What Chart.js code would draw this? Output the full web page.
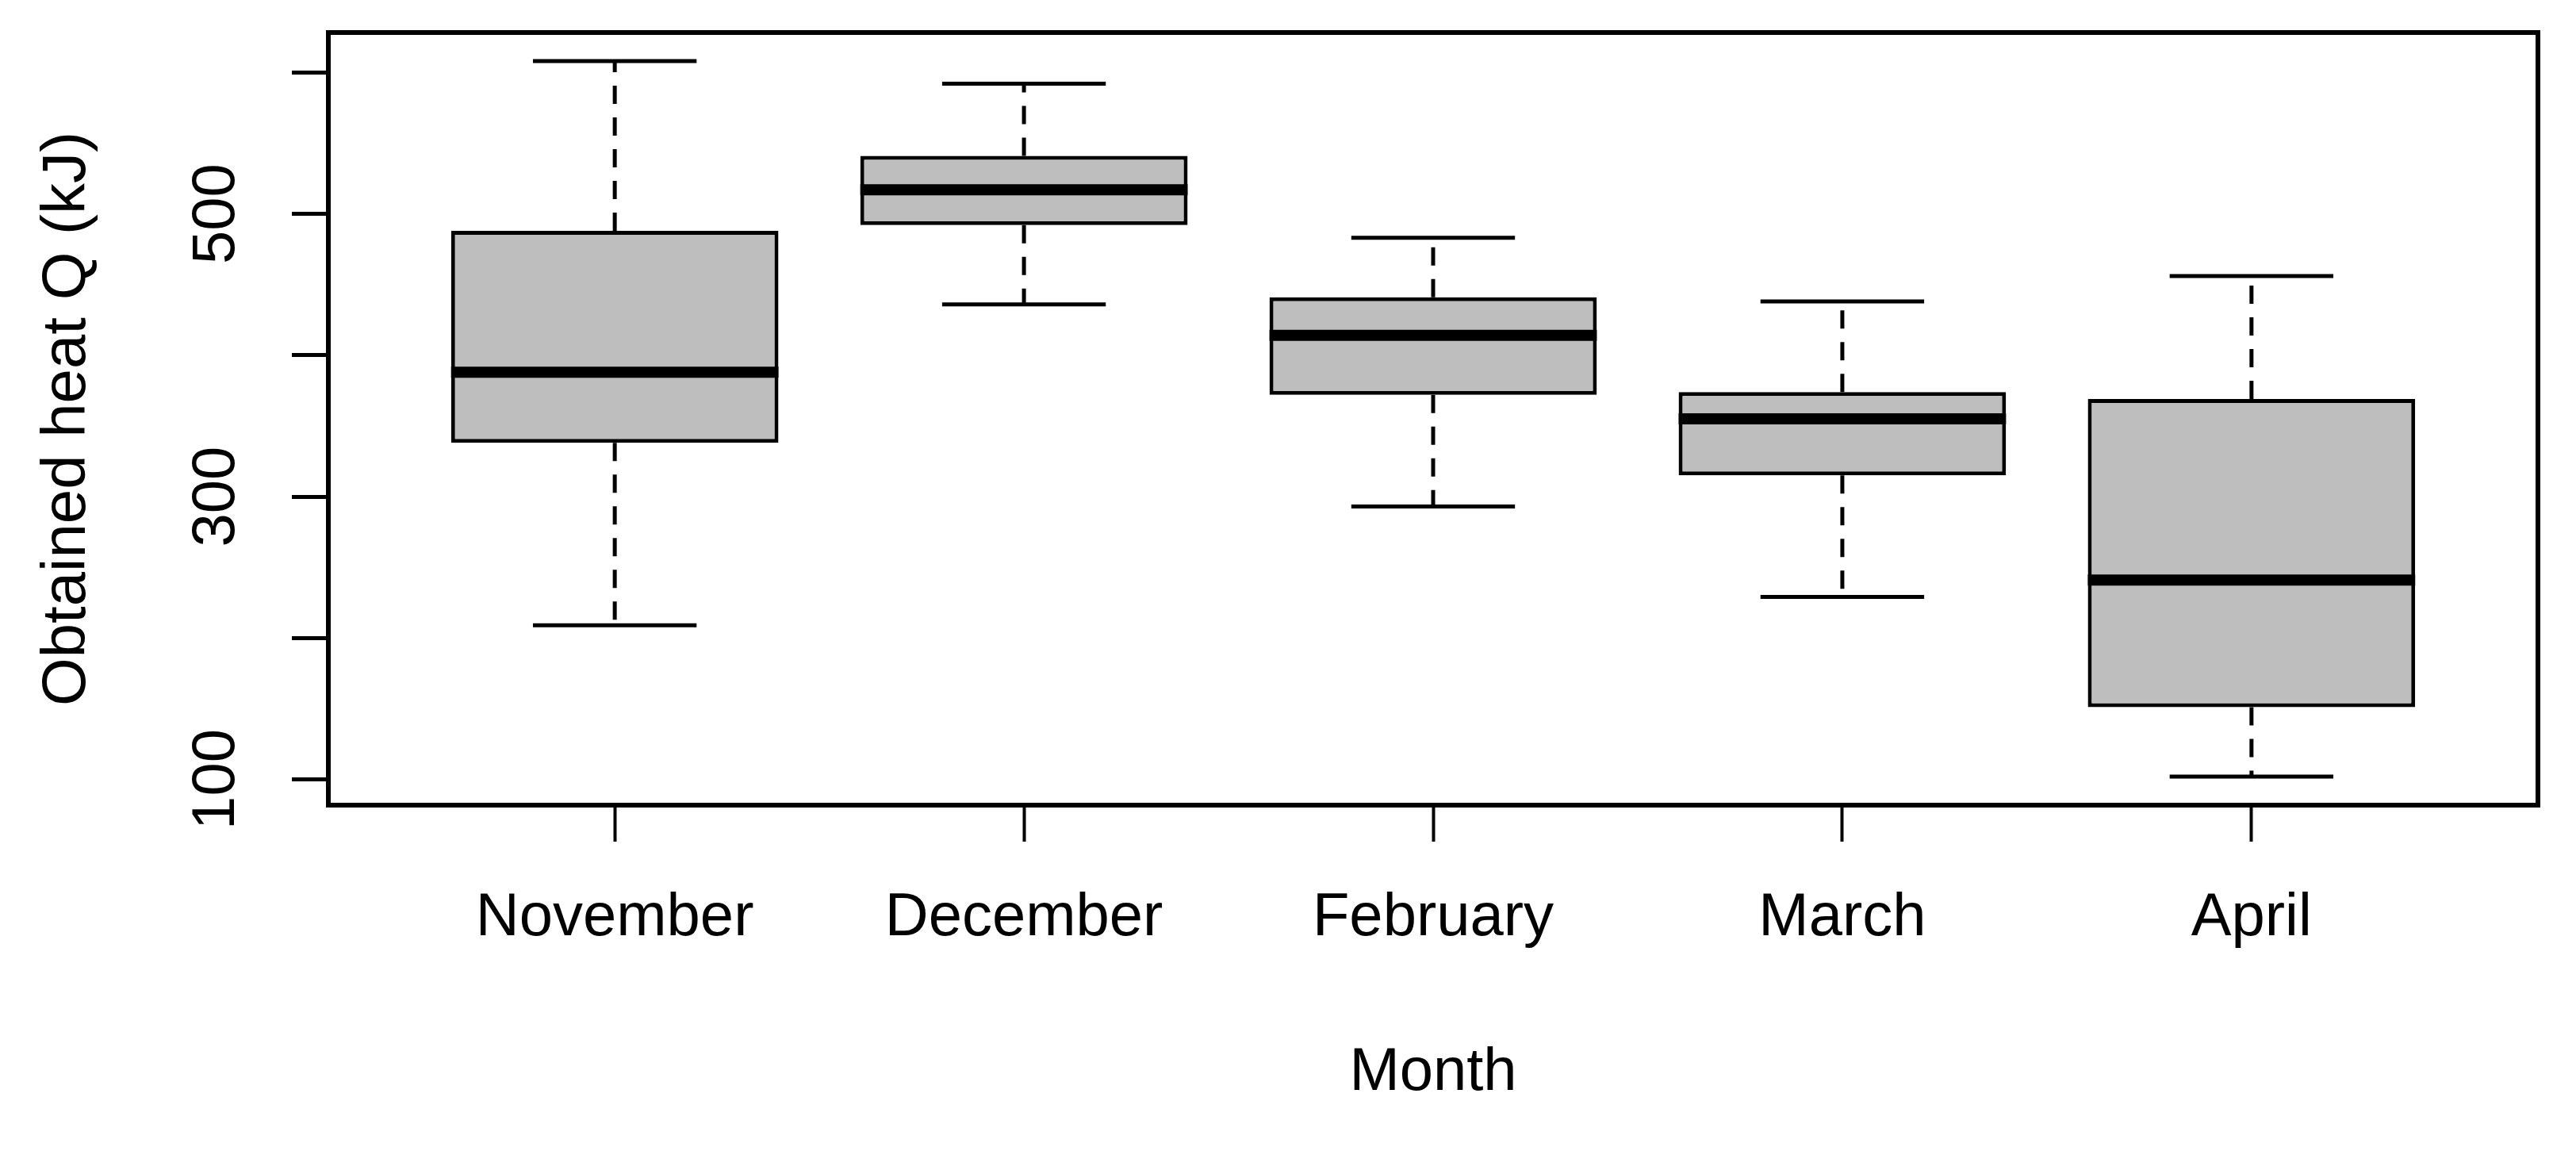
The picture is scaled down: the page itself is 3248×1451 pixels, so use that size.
<!DOCTYPE html>
<html>
<head>
<meta charset="utf-8">
<script src="https://cdn.jsdelivr.net/npm/chart.js@4/dist/chart.umd.min.js"></script>
<style>
  html, body { margin: 0; padding: 0; background: #fff; }
  canvas { display: block; }
</style>
</head>
<body>
<canvas id="myChart" width="3248" height="1451"></canvas>
<script>
// box plot values (kJ)
const months = ['November', 'December', 'February', 'March', 'April'];
const whiskerLow = [209, 436, 293, 229, 102];
const q1 = [338, 492, 372, 315, 151];
const median = [388, 517, 414, 355, 241];
const q3 = [488, 541, 441, 374, 369];
const whiskerHigh = [608, 592, 483, 438, 456];
const yTicks = [100, 200, 300, 400, 500, 600];
const yLabels = [100, 300, 500];

const font = { family: "'Liberation Sans', Arial, sans-serif", size: 76 };
const yTitleFont = { family: "'Liberation Sans', Arial, sans-serif", size: 78 };

// R style y range: data range plus 4% each side
const lo = Math.min(...whiskerLow);
const hi = Math.max(...whiskerHigh);
const pad = (hi - lo) * 0.04;

// whiskers, staples, medians and frame
const boxExtras = {
    id: 'boxExtras',
    afterDatasetsDraw(chart) {
        const ctx = chart.ctx;
        const x = chart.scales.x;
        const y = chart.scales.y;
        ctx.save();
        ctx.strokeStyle = '#000';
        months.forEach((m, i) => {
            const cx = x.getPixelForValue(i + 1);
            // dashed whiskers
            ctx.lineWidth = 5;
            ctx.setLineDash([23, 17]);
            ctx.beginPath();
            ctx.moveTo(cx, y.getPixelForValue(q3[i]));
            ctx.lineTo(cx, y.getPixelForValue(whiskerHigh[i]));
            ctx.moveTo(cx, y.getPixelForValue(q1[i]));
            ctx.lineTo(cx, y.getPixelForValue(whiskerLow[i]));
            ctx.stroke();
            ctx.setLineDash([]);
            // staples
            ctx.lineWidth = 5;
            ctx.beginPath();
            ctx.moveTo(x.getPixelForValue(i + 0.8), y.getPixelForValue(whiskerHigh[i]));
            ctx.lineTo(x.getPixelForValue(i + 1.2), y.getPixelForValue(whiskerHigh[i]));
            ctx.moveTo(x.getPixelForValue(i + 0.8), y.getPixelForValue(whiskerLow[i]));
            ctx.lineTo(x.getPixelForValue(i + 1.2), y.getPixelForValue(whiskerLow[i]));
            ctx.stroke();
            // median
            ctx.lineWidth = 14;
            ctx.beginPath();
            ctx.moveTo(x.getPixelForValue(i + 0.6), y.getPixelForValue(median[i]));
            ctx.lineTo(x.getPixelForValue(i + 1.4), y.getPixelForValue(median[i]));
            ctx.stroke();
        });
        // plot frame
        const a = chart.chartArea;
        ctx.lineWidth = 6;
        ctx.strokeRect(a.left, a.top, a.right - a.left, a.bottom - a.top);
        ctx.restore();
    }
};

const ctx = document.getElementById('myChart').getContext('2d');

const chart = new Chart(ctx, {
    type: 'bar',
    data: {
        datasets: [{
            data: months.map((m, i) => ({ x: i + 1, y: [q1[i], q3[i]] })),
            backgroundColor: '#bebebe',
            borderColor: '#000',
            borderWidth: 5,
            borderSkipped: false,
            categoryPercentage: 1,
            barPercentage: 0.8
        }]
    },
    options: {
        responsive: false,
        animation: false,
        devicePixelRatio: 1,
        layout: { padding: { top: 41, right: 48, bottom: 0, left: 0 } },
        plugins: { legend: { display: false }, tooltip: { enabled: false } },
        scales: {
            x: {
                type: 'linear',
                min: 0.3,
                max: 5.7,
                offset: false,
                afterBuildTicks: (scale) => { scale.ticks = months.map((m, i) => ({ value: i + 1 })); },
                afterFit: (scale) => { scale.height = 436; scale.paddingLeft = 0; scale.paddingRight = 0; },
                border: { display: false },
                grid: { offset: false, drawOnChartArea: false, tickLength: 46, tickColor: '#000', tickWidth: 4 },
                ticks: {
                    color: '#000',
                    font: font,
                    padding: 51,
                    maxRotation: 0,
                    autoSkip: false,
                    callback: (v) => months[v - 1]
                },
                title: { display: true, text: 'Month', color: '#000', font: font, padding: { top: 0, bottom: 52 } }
            },
            y: {
                min: lo - pad,
                max: hi + pad,
                afterBuildTicks: (scale) => { scale.ticks = yTicks.map(v => ({ value: v })); },
                afterFit: (scale) => { scale.width = 414; scale.paddingTop = 0; scale.paddingBottom = 0; },
                border: { display: false },
                grid: { drawOnChartArea: false, tickLength: 46, tickColor: '#000', tickWidth: 5 },
                ticks: {
                    color: '#000',
                    font: font,
                    padding: 31,
                    minRotation: 90,
                    maxRotation: 90,
                    crossAlign: 'center',
                    autoSkip: false,
                    callback: (v) => yLabels.includes(v) ? String(v) : ''
                },
                title: { display: true, text: 'Obtained heat Q (kJ)', color: '#000', font: yTitleFont, padding: { top: 39, bottom: 0 } }
            }
        }
    },
    plugins: [boxExtras]
});
</script>
</body>
</html>
